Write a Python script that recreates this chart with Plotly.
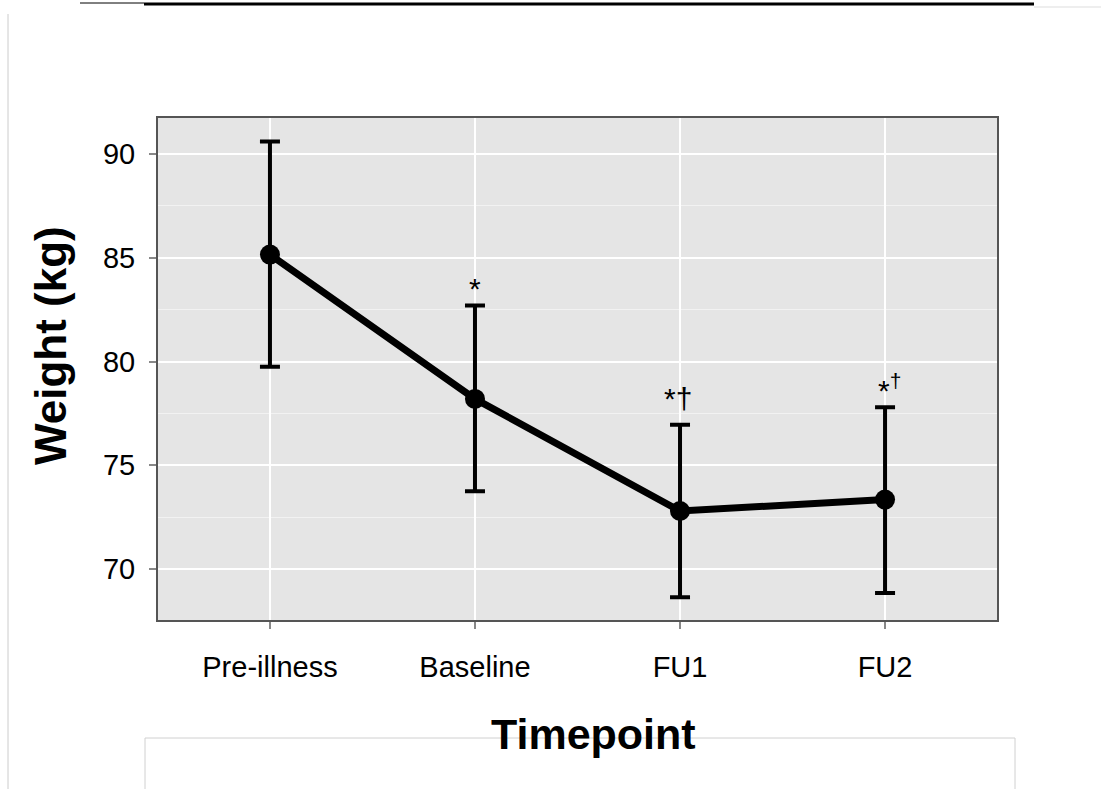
import plotly.graph_objects as go

# ---- data ----
timepoints = ["Pre-illness", "Baseline", "FU1", "FU2"]
weight_mean = [85.15, 78.2, 72.8, 73.35]
weight_upper = [90.6, 82.7, 76.95, 77.8]
weight_lower = [79.75, 73.75, 68.65, 68.85]
sig_labels = ["", "*", "*†", "*<sup>†</sup>"]

err_plus = [u - m for u, m in zip(weight_upper, weight_mean)]
err_minus = [m - l for m, l in zip(weight_mean, weight_lower)]

W, H = 1101, 789
L, R, T, B = 158, 104, 118, 169
FONT = "Liberation Sans, Arial"

fig = go.Figure()
fig.add_trace(go.Scatter(
    x=timepoints, y=weight_mean,
    mode="lines+markers",
    line=dict(color="black", width=7),
    marker=dict(color="black", size=20),
    error_y=dict(type="data", symmetric=False, array=err_plus, arrayminus=err_minus,
                 color="black", thickness=4, width=10),
    showlegend=False,
))

ann_shift = [0, -2, 8, -2]
ann_xshift = [0, 0, -2, 4]
for tp, up, lab, s, xs in zip(timepoints, weight_upper, sig_labels, ann_shift, ann_xshift):
    if lab:
        fig.add_annotation(x=tp, y=up, text=lab, showarrow=False, yanchor="bottom",
                           yshift=s, xshift=xs, font=dict(family=FONT, size=30, color="black"))

pw, ph = W - L - R, H - T - B
def px(x):
    return (x - L) / pw
def py(y):
    return (H - B - y) / ph

# axis titles placed as in the reference
fig.add_annotation(xref="paper", yref="paper", x=px(50), y=py(345), text="<b>Weight (kg)</b>",
                   xanchor="center", yanchor="middle",
                   textangle=-90, showarrow=False, font=dict(family=FONT, size=44, color="black"))
fig.add_annotation(xref="paper", yref="paper", x=px(593), y=py(734), text="<b>Timepoint</b>",
                   xanchor="center", yanchor="middle",
                   showarrow=False, font=dict(family=FONT, size=43, color="black"))

# scan-border decorations (paper coordinates)
shapes = [
    dict(type="line", xref="paper", yref="paper", x0=px(80), x1=px(144), y0=py(3), y1=py(3),
         line=dict(color="black", width=1)),
    dict(type="line", xref="paper", yref="paper", x0=px(144), x1=px(1034), y0=py(4), y1=py(4),
         line=dict(color="black", width=3)),
    dict(type="line", xref="paper", yref="paper", x0=px(1034), x1=px(1101), y0=py(7), y1=py(7),
         line=dict(color="#dddddd", width=1)),
    dict(type="line", xref="paper", yref="paper", x0=px(8), x1=px(8), y0=py(14), y1=py(789),
         line=dict(color="#cccccc", width=1)),
    dict(type="rect", xref="paper", yref="paper", x0=px(145), x1=px(1015), y0=py(738), y1=py(795),
         line=dict(color="#d0d0d0", width=1), fillcolor="rgba(0,0,0,0)", layer="below"),
]

fig.update_layout(
    width=W, height=H,
    margin=dict(l=L, r=R, t=T, b=B),
    paper_bgcolor="white",
    plot_bgcolor="#e5e5e5",
    shapes=shapes,
    font=dict(family=FONT, color="black"),
)
fig.update_xaxes(
    range=[-0.546, 3.546],
    showgrid=True, gridcolor="white", gridwidth=2,
    ticks="outside", ticklen=7, tickwidth=2, tickcolor="#888888",
    tickfont=dict(size=29, color="black"),
    ticklabelstandoff=13,
    showline=True, mirror=True, linecolor="#555555", linewidth=2,
    zeroline=False,
)
fig.update_yaxes(
    range=[67.55, 91.73],
    tickvals=[70, 75, 80, 85, 90],
    showgrid=True, gridcolor="white", gridwidth=2,
    minor=dict(tickvals=[67.5, 72.5, 77.5, 82.5, 87.5], showgrid=True, gridcolor="#f2f2f2", gridwidth=1, ticks=""),
    ticks="outside", ticklen=7, tickwidth=2, tickcolor="#888888",
    tickfont=dict(size=29, color="black"),
    ticklabelstandoff=8,
    showline=True, mirror=True, linecolor="#555555", linewidth=2,
    zeroline=False,
)

fig.write_html("out.html", config={"displayModeBar": False},
               post_script="document.body.style.margin='0px';")
